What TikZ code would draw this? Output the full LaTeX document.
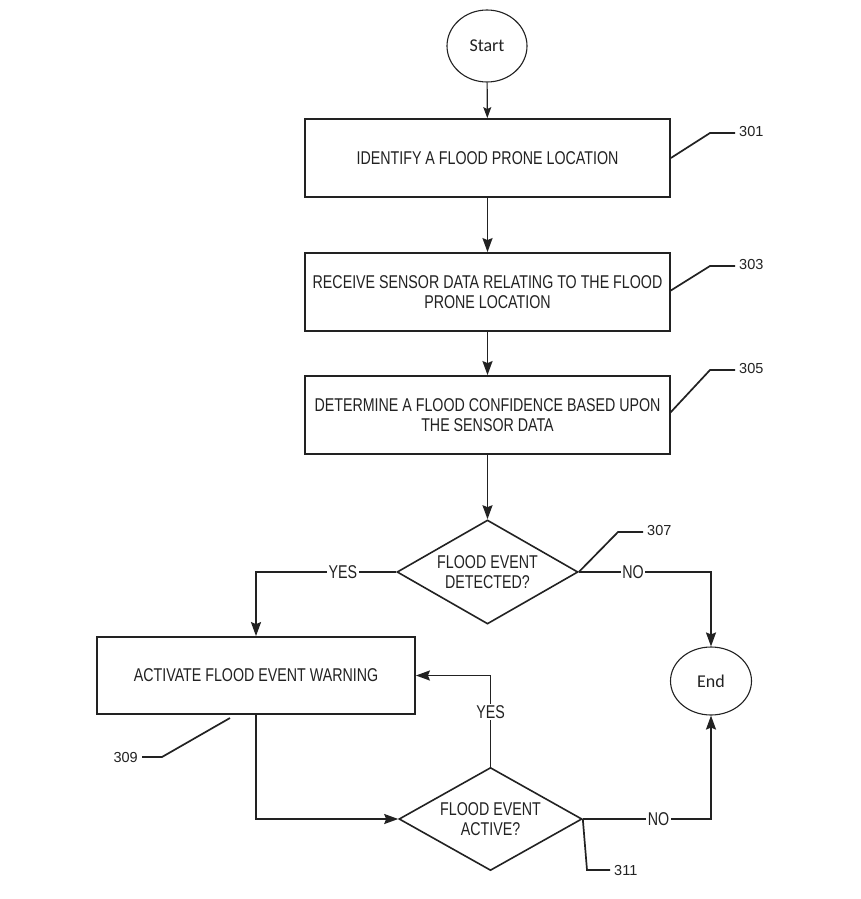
\documentclass[tikz,border=0pt]{standalone}
\usepackage{fontspec}
\setmainfont{Liberation Sans}
\newfontfamily\condfont[FakeStretch=0.77]{Liberation Sans}
\newfontfamily\calfont{Carlito}
\usetikzlibrary{shapes.geometric,arrows.meta}
\definecolor{ink}{HTML}{222222}
\tikzset{
  every node/.style={text=ink},
  boxtext/.style={font=\condfont\fontsize{18.5}{20.5}\selectfont},
  stepbox/.style={draw=ink, line width=1.8pt, rectangle, minimum width=365pt, minimum height=78pt, align=center, inner sep=0pt, boxtext},
  oval/.style={draw=ink, line width=1.1pt, ellipse, inner sep=0pt, font=\calfont\fontsize{18}{20}\selectfont},
  dia/.style={draw=ink, line width=1.6pt, diamond, inner sep=0pt},
  diatext/.style={align=center, boxtext},
  flow/.style={draw=ink, line width=1.8pt, -{Stealth[length=14pt,width=10pt,inset=2pt]}},
  thinflow/.style={draw=ink, line width=1.1pt, -{Stealth[length=11pt,width=8pt,inset=2pt]}},
  plain/.style={draw=ink, line width=1.7pt},
  yn/.style={fill=white, inner sep=1.5pt, boxtext},
  refnum/.style={font=\fontsize{14.5}{16}\selectfont, inner sep=0pt}
}
\begin{document}
\begin{tikzpicture}[x=1pt,y=-1pt]
\useasboundingbox[fill=white] (0,0) rectangle (860,899);

% nodes
\node[oval, minimum width=80pt, minimum height=72pt] (start) at (487,46) {Start};
\node[stepbox] (b301) at (487.5,158) {IDENTIFY A FLOOD PRONE LOCATION};
\node[stepbox] (b303) at (487.5,292) {RECEIVE SENSOR DATA RELATING TO THE FLOOD\\PRONE LOCATION};
\node[stepbox] (b305) at (487.5,415) {DETERMINE A FLOOD CONFIDENCE BASED UPON\\THE SENSOR DATA};
\node[dia, minimum width=181pt, minimum height=104pt] (d307) at (487.5,572) {};
\node[diatext] (t307) at (487.5,572) {FLOOD EVENT\\DETECTED?};
\node[stepbox, minimum width=318pt, minimum height=77pt] (b309) at (256,675.5) {ACTIVATE FLOOD EVENT WARNING};
\node[dia, minimum width=183pt, minimum height=103pt] (d311) at (490.5,819) {};
\node[diatext] (t311) at (490.5,819) {FLOOD EVENT\\ACTIVE?};
\node[oval, minimum width=81pt, minimum height=68pt] (end) at (711,681) {End};

% corner coordinates
\coordinate (cy1) at (256,572);
\coordinate (cn1) at (711,572);
\coordinate (cb) at (256,819);
\coordinate (cy2) at (490.5,675.5);
\coordinate (cn2) at (711,819);

% flow connectors
\draw[thinflow] (start) -- (b301);
\draw[flow] (b301) -- (b303);
\draw[flow] (b303) -- (b305);
\draw[flow] (b305) -- (d307.north);
\draw[flow] (d307.west) -- node[yn, pos=0.38] {YES} (cy1) -- (b309.north);
\draw[flow] (d307.east) -- node[yn, pos=0.41] {NO} (cn1) -- (end.north);
\draw[flow] (b309.south) -- (cb) -- (d311.west);
\draw[flow] (d311.north) -- node[yn, pos=0.6] {YES} (cy2) -- (b309.east);
\draw[flow] (d311.east) -- node[yn, pos=0.59] {NO} (cn2) -- (end.south);

% reference numerals
\coordinate (k301a) at (710,133); \coordinate (k301b) at (735,133);
\node[refnum, anchor=west] (r301) at (739,132) {301};
\draw[plain] (b301.east) -- (k301a) -- (k301b);

\coordinate (k303s) at (670,291); \coordinate (k303a) at (710,266); \coordinate (k303b) at (735,266);
\node[refnum, anchor=west] (r303) at (739,265) {303};
\draw[plain] (k303s) -- (k303a) -- (k303b);

\coordinate (k305s) at (670,413); \coordinate (k305a) at (710,370); \coordinate (k305b) at (735,370);
\node[refnum, anchor=west] (r305) at (739,369) {305};
\draw[plain] (k305s) -- (k305a) -- (k305b);

\coordinate (k307a) at (618,532); \coordinate (k307b) at (643,532);
\node[refnum, anchor=west] (r307) at (647,531) {307};
\draw[plain] (d307.east) -- (k307a) -- (k307b);

\coordinate (k309s) at (230,718); \coordinate (k309a) at (162,757); \coordinate (k309b) at (142,757);
\node[refnum, anchor=east] (r309) at (138,757) {309};
\draw[plain] (k309s) -- (k309a) -- (k309b);

\coordinate (k311a) at (587,870); \coordinate (k311b) at (610,870);
\node[refnum, anchor=west] (r311) at (614,870) {311};
\draw[plain] (d311.east) -- (k311a) -- (k311b);
\end{tikzpicture}
\end{document}
